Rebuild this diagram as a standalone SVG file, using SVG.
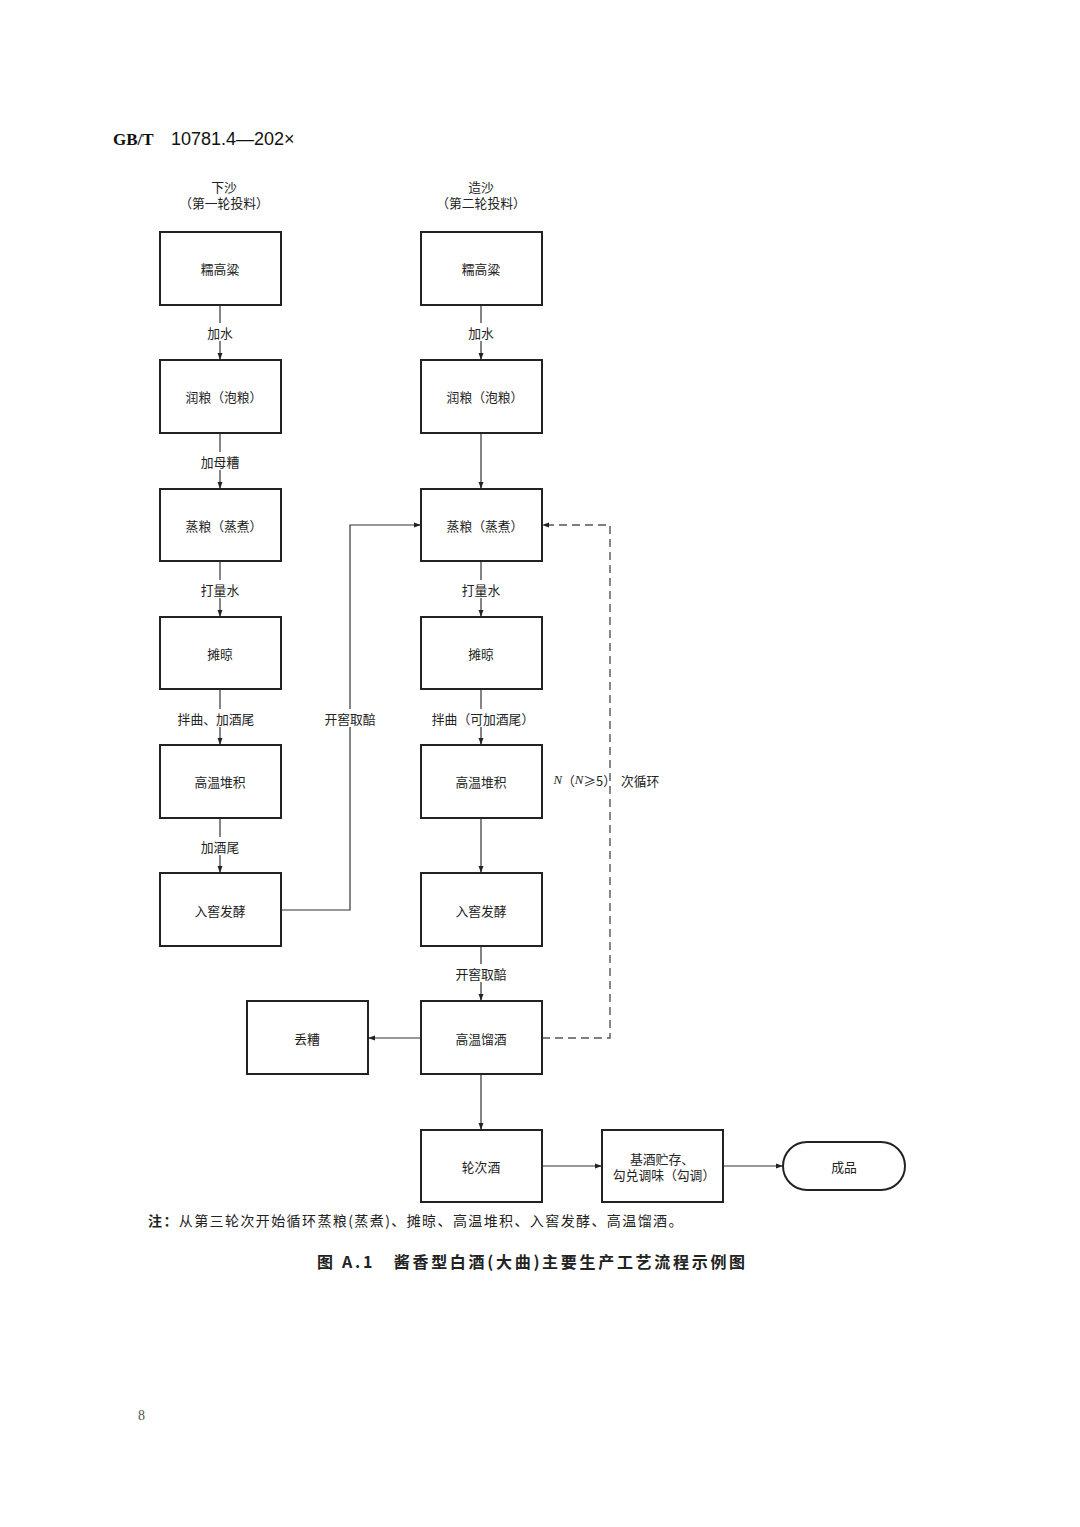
<svg xmlns="http://www.w3.org/2000/svg" width="1080" height="1527" viewBox="0 0 1080 1527">
<style>
.b{fill:#fff;stroke:#222;stroke-width:2}
.t{font-family:"Noto Sans CJK SC","Liberation Serif",serif;font-size:12.8px;fill:#222;text-anchor:middle;dominant-baseline:central}
.l{stroke:#333;stroke-width:1.2;fill:none}
.d{stroke:#555;stroke-width:1.4;fill:none;stroke-dasharray:8,5}
</style>
<defs>
<marker id="a" viewBox="0 0 10 10" refX="10" refY="5" markerWidth="9" markerHeight="7" markerUnits="userSpaceOnUse" orient="auto"><path d="M0,1.5 L10,5 L0,8.5 Z" fill="#222"/></marker>
</defs>
<rect width="1080" height="1527" fill="#fff"/>
<text x="113" y="145" style="font-family:'Liberation Serif',serif;font-weight:bold;font-size:17px;fill:#111">GB/T<tspan x="171" style="font-family:'Liberation Sans',sans-serif;font-weight:normal;font-size:18px">10781.4—202×</tspan></text>
<text class="t" x="224" y="186">下沙</text>
<text class="t" x="224" y="202">（第一轮投料）</text>
<text class="t" x="481" y="186">造沙</text>
<text class="t" x="481" y="202">（第二轮投料）</text>

<g id="connectors">
<line class="l" x1="220" y1="305" x2="220" y2="323"/><line class="l" x1="220" y1="341" x2="220" y2="360" marker-end="url(#a)"/>
<line class="l" x1="220" y1="433" x2="220" y2="452"/><line class="l" x1="220" y1="470" x2="220" y2="489" marker-end="url(#a)"/>
<line class="l" x1="220" y1="561" x2="220" y2="580"/><line class="l" x1="220" y1="598" x2="220" y2="617" marker-end="url(#a)"/>
<line class="l" x1="220" y1="689" x2="220" y2="709"/><line class="l" x1="220" y1="727" x2="220" y2="745" marker-end="url(#a)"/>
<line class="l" x1="220" y1="818" x2="220" y2="837"/><line class="l" x1="220" y1="855" x2="220" y2="873" marker-end="url(#a)"/>
<line class="l" x1="481" y1="305" x2="481" y2="323"/><line class="l" x1="481" y1="341" x2="481" y2="360" marker-end="url(#a)"/>
<line class="l" x1="481" y1="433" x2="481" y2="489" marker-end="url(#a)"/>
<line class="l" x1="481" y1="561" x2="481" y2="580"/><line class="l" x1="481" y1="598" x2="481" y2="617" marker-end="url(#a)"/>
<line class="l" x1="481" y1="689" x2="481" y2="709"/><line class="l" x1="481" y1="727" x2="481" y2="745" marker-end="url(#a)"/>
<line class="l" x1="481" y1="818" x2="481" y2="873" marker-end="url(#a)"/>
<line class="l" x1="481" y1="946" x2="481" y2="964"/><line class="l" x1="481" y1="982" x2="481" y2="1001" marker-end="url(#a)"/>
<line class="l" x1="481" y1="1074" x2="481" y2="1130" marker-end="url(#a)"/>
<line class="l" x1="421" y1="1038" x2="368" y2="1038" marker-end="url(#a)"/>
<line class="l" x1="542" y1="1166" x2="602" y2="1166" marker-end="url(#a)"/>
<line class="l" x1="723" y1="1166" x2="783" y2="1166" marker-end="url(#a)"/>
<polyline class="l" points="281,910 350,910 350,727"/>
<polyline class="l" points="350,709 350,525 421,525" marker-end="url(#a)"/>
<polyline class="d" points="542,1038 610,1038 610,525 542,525" marker-end="url(#a)"/>
<text class="t" x="220" y="332">加水</text>
<text class="t" x="220" y="461">加母糟</text>
<text class="t" x="220" y="589">打量水</text>
<text class="t" x="216" y="718">拌曲、加酒尾</text>
<text class="t" x="220" y="846">加酒尾</text>
<text class="t" x="481" y="332">加水</text>
<text class="t" x="481" y="589">打量水</text>
<text class="t" x="483" y="718">拌曲（可加酒尾）</text>
<text class="t" x="481" y="973">开窖取醅</text>
<text class="t" x="350" y="718">开窖取醅</text>
<text class="t" x="616" y="780" style="text-anchor:end"><tspan style="font-family:'Liberation Serif',serif;font-style:italic">N</tspan>（<tspan style="font-family:'Liberation Serif',serif;font-style:italic">N</tspan>≥5）</text>
<text class="t" x="621" y="780" style="text-anchor:start">次循环</text>
</g>

<g id="n1"><rect class="b" x="160" y="232" width="121" height="73"/><text class="t" x="220" y="268">糯高粱</text></g>
<g id="n2"><rect class="b" x="160" y="360" width="121" height="73"/><text class="t" x="224" y="396">润粮（泡粮）</text></g>
<g id="n3"><rect class="b" x="160" y="489" width="121" height="72"/><text class="t" x="224" y="525">蒸粮（蒸煮）</text></g>
<g id="n4"><rect class="b" x="160" y="617" width="121" height="72"/><text class="t" x="220" y="653">摊晾</text></g>
<g id="n5"><rect class="b" x="160" y="745" width="121" height="73"/><text class="t" x="220" y="781">高温堆积</text></g>
<g id="n6"><rect class="b" x="160" y="873" width="121" height="73"/><text class="t" x="220" y="910">入窖发酵</text></g>
<g id="m1"><rect class="b" x="421" y="232" width="121" height="73"/><text class="t" x="481" y="268">糯高粱</text></g>
<g id="m2"><rect class="b" x="421" y="360" width="121" height="73"/><text class="t" x="485" y="396">润粮（泡粮）</text></g>
<g id="m3"><rect class="b" x="421" y="489" width="121" height="72"/><text class="t" x="485" y="525">蒸粮（蒸煮）</text></g>
<g id="m4"><rect class="b" x="421" y="617" width="121" height="72"/><text class="t" x="481" y="653">摊晾</text></g>
<g id="m5"><rect class="b" x="421" y="745" width="121" height="73"/><text class="t" x="481" y="781">高温堆积</text></g>
<g id="m6"><rect class="b" x="421" y="873" width="121" height="73"/><text class="t" x="481" y="910">入窖发酵</text></g>
<g id="m7"><rect class="b" x="421" y="1001" width="121" height="73"/><text class="t" x="481" y="1038">高温馏酒</text></g>
<g id="m8"><rect class="b" x="421" y="1130" width="121" height="72"/><text class="t" x="481" y="1166">轮次酒</text></g>
<g id="d1"><rect class="b" x="247" y="1001" width="121" height="73"/><text class="t" x="307" y="1038">丢糟</text></g>
<g id="s1"><rect class="b" x="602" y="1130" width="121" height="72"/><text class="t" x="662" y="1158">基酒贮存、</text><text class="t" x="664" y="1174">勾兑调味（勾调）</text></g>
<g id="p1"><rect class="b" x="783" y="1142" width="122" height="48" rx="24" ry="24"/><text class="t" x="844" y="1166">成品</text></g>

<text x="148" y="1226" style="font-family:'Noto Sans CJK SC',serif;font-size:14px;fill:#222;letter-spacing:1.4px"><tspan font-weight="bold">注：</tspan>从第三轮次开始循环蒸粮(蒸煮)、摊晾、高温堆积、入窖发酵、高温馏酒。</text>
<text x="317" y="1268" style="font-family:'Noto Sans CJK SC',sans-serif;font-size:16px;font-weight:bold;fill:#222;letter-spacing:2.7px">图 A.1　酱香型白酒(大曲)主要生产工艺流程示例图</text>
<text x="138" y="1420" style="font-family:'Liberation Serif',serif;font-size:14px;fill:#555">8</text>
</svg>
